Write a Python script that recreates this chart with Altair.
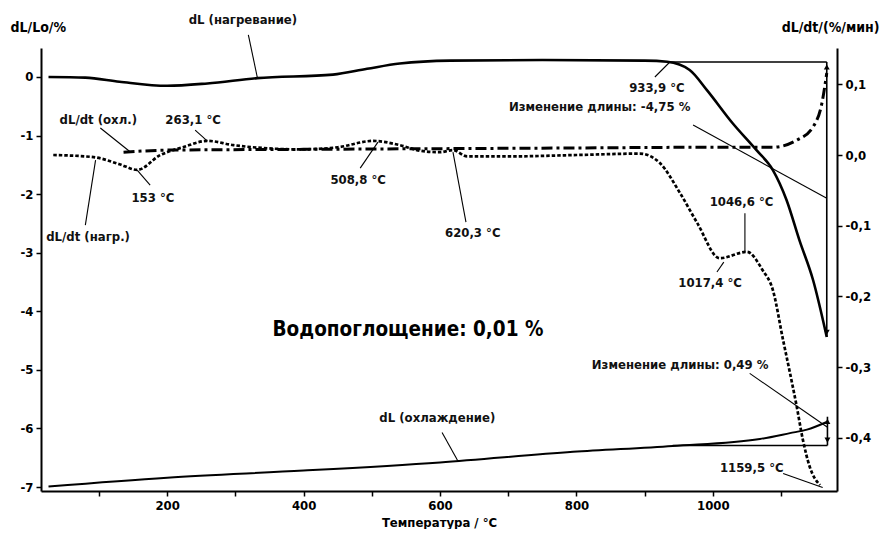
import altair as alt
import pandas as pd

FONT = "DejaVu Sans Condensed, Liberation Sans Narrow, sans-serif"

# ---- dL heating (left axis, %)
heat_T = [26, 80, 130, 200, 259, 332, 443, 493, 541, 615, 750, 900, 933, 966, 991,
          1029, 1064, 1088, 1108, 1127, 1147, 1167]
heat_dL = [0.0, -0.01, -0.08, -0.15, -0.11, -0.02, 0.04, 0.14, 0.23, 0.28, 0.29, 0.28,
           0.26, 0.12, -0.22, -0.79, -1.25, -1.59, -2.10, -2.79, -3.47, -4.44]

# ---- dL cooling (left axis, %)
cool_T = [26, 200, 400, 600, 795, 941, 1069, 1113, 1138, 1167]
cool_dL = [-6.99, -6.84, -6.72, -6.58, -6.40, -6.30, -6.18, -6.08, -6.02, -5.89]

# ---- dL/dt heating (right axis, %/min)
hrate_T = [33, 92, 130, 156, 190, 223, 259, 297, 395, 450, 502, 541, 571, 600, 619,
           640, 700, 800, 893, 922, 952, 977, 1010, 1050, 1073, 1088, 1103, 1113,
           1123, 1132, 1142, 1157]
hrate = [0.0, -0.003, -0.013, -0.021, 0.0, 0.011, 0.020, 0.014, 0.008, 0.011, 0.020,
         0.014, 0.006, 0.004, 0.007, -0.002, -0.002, 0.0, 0.002, -0.011, -0.054,
         -0.096, -0.146, -0.137, -0.163, -0.191, -0.262, -0.308, -0.356, -0.403,
         -0.441, -0.467]

# ---- dL/dt cooling (right axis, %/min)
crate_T = [136, 204, 400, 600, 800, 1000, 1088, 1123, 1147, 1160, 1167]
crate = [0.004, 0.007, 0.008, 0.009, 0.010, 0.011, 0.011, 0.021, 0.040, 0.074, 0.116]

# ---- annotation labels (in left-axis units)
lab_text = ["dL (нагревание)", "dL/dt (охл.)", "263,1 °C", "153 °C", "dL/dt (нагр.)",
            "508,8 °C", "620,3 °C", "933,9 °C", "Изменение длины: -4,75 %",
            "1046,6 °C", "1017,4 °C", "Изменение длины: 0,49 %", "dL (охлаждение)",
            "1159,5 °C"]
lab_T = [311, 99, 238, 179, 84, 480, 648, 918, 834, 1042, 996, 952, 596, 1057]
lab_v = [0.97, -0.735, -0.735, -2.07, -2.735, -1.76, -2.667, -0.188, -0.513, -2.137,
         -3.52, -4.92, -5.83, -6.68]

# ---- leader lines
ld_T1 = [319, 102, 241, 175, 80, 483, 638, 915, 971, 1047, 1006, 1054, 603, 1103]
ld_v1 = [0.72, -0.87, -0.906, -1.846, -2.53, -1.556, -2.479, 0.0, -0.82, -2.325, -3.33,
         -5.06, -6.07, -6.77]
ld_T2 = [332, 146, 259, 156, 95, 509, 619, 937, 1167, 1047, 1016, 1168, 626, 1161]
ld_v2 = [0.0, -1.28, -1.094, -1.59, -1.42, -1.111, -1.282, 0.256, -2.07, -2.99, -3.16,
         -5.98, -6.55, -7.01]

# ---- length-change measurement lines
ms_T1 = [937, 1167, 941, 1168]
ms_v1 = [0.256, 0.256, -6.29, -6.29]
ms_T2 = [1167, 1167, 1168, 1168]
ms_v2 = [0.256, -4.44, -6.29, -5.80]

arr_T = [1167, 1167, 1168, 1168]
arr_v = [0.17, -4.36, -5.88, -6.20]
arr_shape = ["triangle-up", "triangle-down", "triangle-up", "triangle-down"]

big_text = ["Водопоглощение: 0,01 %"]
big_T = [553]
big_v = [-4.325]

X_DOMAIN = [15, 1182]
L_DOMAIN = [-7.068, 0.495]
R_DOMAIN = [-0.4753, 0.1514]

xs = alt.Scale(domain=X_DOMAIN, nice=False, zero=False)
ls = alt.Scale(domain=L_DOMAIN, nice=False, zero=False)
rs = alt.Scale(domain=R_DOMAIN, nice=False, zero=False)

x_axis = alt.Axis(
    values=[100, 200, 300, 400, 500, 600, 700, 800, 900, 1000, 1100],
    labelExpr="datum.value % 200 == 0 ? datum.label : ''",
    title="Температура / °C", titleY=31, titleBaseline="middle",
    format="d", tickSize=5,
)
l_axis = alt.Axis(
    values=[-7, -6, -5, -4, -3, -2, -1, 0],
    labelExpr="(datum.value < 0 ? '-' : '') + format(abs(datum.value), 'd')",
    title="dL/Lo/%", titleAngle=0, titleX=-31, titleY=-21, titleAlign="left",
    titleBaseline="middle", tickSize=5, titleFontSize=14,
)
r_axis = alt.Axis(
    orient="right",
    values=[-0.4, -0.3, -0.2, -0.1, 0.0, 0.1],
    labelExpr="(datum.value < -0.001 ? '-' : '') + replace(format(abs(datum.value), '.1f'), '.', ',')",
    title="dL/dt/(%/мин)", titleAngle=0, titleX=42, titleY=-21, titleAlign="right",
    titleBaseline="middle", tickSize=5, titleFontSize=14,
)

heat_df = pd.DataFrame({"T": heat_T, "v": heat_dL})
cool_df = pd.DataFrame({"T": cool_T, "v": cool_dL})
hrate_df = pd.DataFrame({"T": hrate_T, "r": hrate})
crate_df = pd.DataFrame({"T": crate_T, "r": crate})
lab_df = pd.DataFrame({"T": lab_T, "v": lab_v, "t": lab_text})
ld_df = pd.DataFrame({"T1": ld_T1, "v1": ld_v1, "T2": ld_T2, "v2": ld_v2})
ms_df = pd.DataFrame({"T1": ms_T1, "v1": ms_v1, "T2": ms_T2, "v2": ms_v2})
arr_df = pd.DataFrame({"T": arr_T, "v": arr_v, "s": arr_shape})
big_df = pd.DataFrame({"T": big_T, "v": big_v, "t": big_text})

heat_line = alt.Chart(heat_df).mark_line(color="black", strokeWidth=2.6, interpolate="monotone").encode(
    x=alt.X("T:Q", scale=xs, axis=x_axis),
    y=alt.Y("v:Q", scale=ls, axis=l_axis),
)
cool_line = alt.Chart(cool_df).mark_line(color="black", strokeWidth=2, interpolate="monotone").encode(
    x=alt.X("T:Q", scale=xs),
    y=alt.Y("v:Q", scale=ls),
)
leaders = alt.Chart(ld_df).mark_rule(color="black", strokeWidth=1.1).encode(
    x=alt.X("T1:Q", scale=xs), x2="T2:Q",
    y=alt.Y("v1:Q", scale=ls), y2="v2:Q",
)
measures = alt.Chart(ms_df).mark_rule(color="black", strokeWidth=1.6).encode(
    x=alt.X("T1:Q", scale=xs), x2="T2:Q",
    y=alt.Y("v1:Q", scale=ls), y2="v2:Q",
)
arrows = alt.Chart(arr_df).mark_point(color="black", filled=True, opacity=1, size=35).encode(
    x=alt.X("T:Q", scale=xs),
    y=alt.Y("v:Q", scale=ls),
    shape=alt.Shape("s:N", scale=None, legend=None),
)
labels = alt.Chart(lab_df).mark_text(font=FONT, fontSize=13, fontWeight="bold", color="#111",
                                     align="center", baseline="middle").encode(
    x=alt.X("T:Q", scale=xs),
    y=alt.Y("v:Q", scale=ls),
    text="t:N",
)
big = alt.Chart(big_df).mark_text(font=FONT, fontSize=20.5, fontWeight="bold", color="black",
                                  align="center", baseline="middle").encode(
    x=alt.X("T:Q", scale=xs),
    y=alt.Y("v:Q", scale=ls),
    text="t:N",
)

left_group = alt.layer(heat_line, cool_line, measures, leaders, arrows, labels, big)

hrate_line = alt.Chart(hrate_df).mark_line(color="black", strokeWidth=2.7, strokeDash=[3.5, 2],
                                           interpolate="monotone").encode(
    x=alt.X("T:Q", scale=xs),
    y=alt.Y("r:Q", scale=rs, axis=r_axis),
)
crate_line = alt.Chart(crate_df).mark_line(color="black", strokeWidth=3, strokeDash=[11, 4, 3, 4],
                                           interpolate="monotone").encode(
    x=alt.X("T:Q", scale=xs),
    y=alt.Y("r:Q", scale=rs),
)
right_group = alt.layer(hrate_line, crate_line)

chart = alt.layer(left_group, right_group).resolve_scale(y="independent").properties(
    width=796, height=443,
    autosize=alt.AutoSizeParams(type="none"),
    padding={"left": 33, "top": 40, "right": 43, "bottom": 38},
    background="white",
).configure_view(stroke=None).configure_axis(
    grid=False, domainColor="black", domainWidth=2, tickColor="black", tickWidth=1.5,
    labelFont=FONT, labelFontSize=13, labelFontWeight="bold", labelColor="black",
    titleFont=FONT, titleFontSize=13, titleFontWeight="bold", titleColor="black",
    labelPadding=3,
)

chart.save("out.html", embed_options={"renderer": "svg", "actions": False})
